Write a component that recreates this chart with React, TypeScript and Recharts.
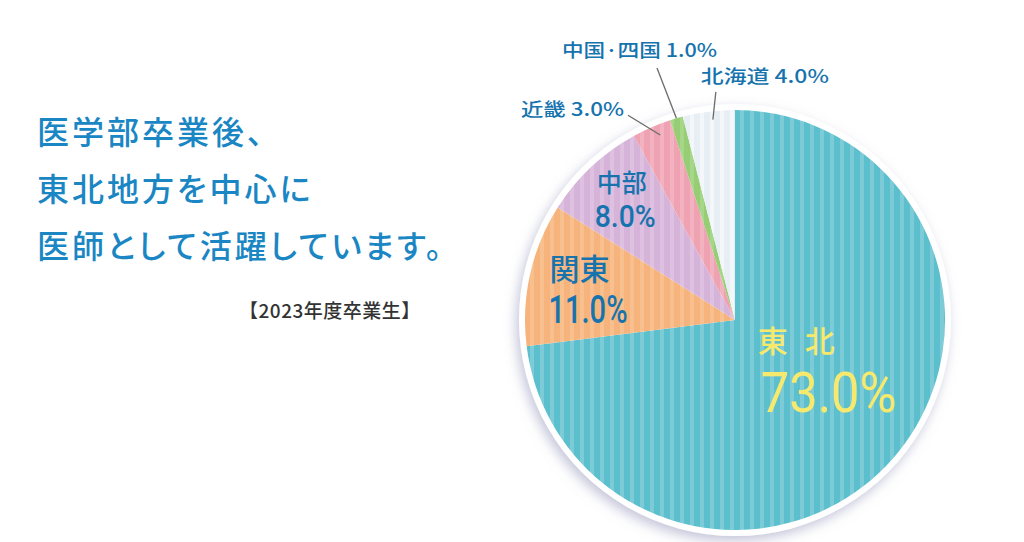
import React from 'react';
import { PieChart, Pie, Cell } from 'recharts';

// 2023年度卒業生の勤務地域
const regions = ['東北', '関東', '中部', '近畿', '中国·四国', '北海道'];
const shares = [73, 11, 8, 3, 1, 4];
const headingLines = ['医学部卒業後、', '東北地方を中心に', '医師として活躍しています。'];
const yearNote = '【2023年度卒業生】';

const chartData = regions.map((name, i) => ({ name, value: shares[i] }));

// stripe colours: base + lighter stripe
const fills = [
  ['#5bbfcd', '#7ccbd7'],
  ['#f6b47c', '#f8c08f'],
  ['#d6b3d8', '#dec1e0'],
  ['#efa2b2', '#f3b2c0'],
  ['#97cd74', '#a6d687'],
  ['#e7eff5', '#f3f7fa'],
];

const BLUE = '#1673ad';
const RAD = Math.PI / 180;

const polar = (cx: number, cy: number, r: number, a: number) => ({
  x: cx + r * Math.cos(-a * RAD),
  y: cy + r * Math.sin(-a * RAD),
});

// label placement per slice
const labelLayout: any[] = [
  { kind: 'inside', r: 0.5, color: '#f6e96e', name: { dx: -56, dy: -37, size: 30, ls: 17, weight: 500 }, val: { dx: -53, dy: 23, size: 56, w: 136, weight: 400 } },
  { kind: 'inside', r: 0.7, color: BLUE, name: { dx: -42, dy: -8, size: 30, ls: 0, weight: 500 }, val: { dx: -43, dy: 35, size: 39, w: 79, weight: 500 } },
  { kind: 'inside', r: 0.6, color: BLUE, name: { dx: -52, dy: -36, size: 25, ls: 0, weight: 500 }, val: { dx: -54, dy: -1, size: 31, w: 61, weight: 500 } },
  { kind: 'outside', r1: 0.95, a1: -1.4, r2: 1.1, a2: 4.2, tdx: -4, tdy: 1, anchor: 'end', w: 103 },
  { kind: 'outside', r1: 1.0, a1: 0, r2: 1.256, a2: 1.0, tdx: -95, tdy: -11, anchor: 'start', w: 155 },
  { kind: 'outside', r1: 0.96, a1: -0.9, r2: 1.09, a2: -2.4, tdx: -15, tdy: -9, anchor: 'start', w: 128 },
];

const renderLabel = (props: any) => {
  const { cx, cy, midAngle, outerRadius, index } = props;
  const L = labelLayout[index];
  const pct = `${shares[index].toFixed(1)}%`;
  if (L.kind === 'inside') {
    const p = polar(cx, cy, outerRadius * L.r, midAngle);
    return (
      <g key={`lbl-${index}`}>
        <text
          x={p.x + L.name.dx}
          y={p.y + L.name.dy}
          fill={L.color}
          fontSize={L.name.size}
          fontWeight={L.name.weight}
          fontFamily="'Noto Sans CJK JP', sans-serif"
          letterSpacing={L.name.ls}
        >
          {regions[index]}
        </text>
        <text
          x={p.x + L.val.dx}
          y={p.y + L.val.dy}
          fill={L.color}
          fontSize={L.val.size}
          fontWeight={L.val.weight}
          fontFamily="Roboto, sans-serif"
          textLength={L.val.w}
          lengthAdjust="spacingAndGlyphs"
        >
          {pct}
        </text>
      </g>
    );
  }
  const p1 = polar(cx, cy, outerRadius * L.r1, midAngle + L.a1);
  const p2 = polar(cx, cy, outerRadius * L.r2, midAngle + L.a2);
  return (
    <g key={`lbl-${index}`}>
      <line x1={p1.x} y1={p1.y} x2={p2.x} y2={p2.y} stroke="#6b6b6b" strokeWidth={1.3} />
      <text
        x={p2.x + L.tdx}
        y={p2.y + L.tdy}
        textAnchor={L.anchor}
        fill={BLUE}
        fontSize={18}
        fontWeight={500}
        fontFamily="'Noto Sans CJK JP', sans-serif"
        textLength={L.w}
        lengthAdjust="spacingAndGlyphs"
      >
        {regions[index]} {pct}
      </text>
    </g>
  );
};

export default function App() {
  return (
    <div style={{ position: 'absolute', left: 0, top: 0, width: 1024, height: 542, background: '#fff', overflow: 'hidden' }}>
      <div
        style={{
          position: 'absolute',
          left: 37,
          top: 102,
          color: '#1a86c3',
          fontFamily: "'Noto Sans CJK JP', sans-serif",
          fontSize: 32,
          fontWeight: 500,
          lineHeight: '57px',
          letterSpacing: 3,
          fontFeatureSettings: "'palt'",
          whiteSpace: 'nowrap',
        }}
      >
        {headingLines.map((l) => (
          <div key={l}>{l}</div>
        ))}
      </div>
      <div
        style={{
          position: 'absolute',
          left: 239,
          top: 297,
          color: '#333',
          fontFamily: "'Noto Sans CJK JP', sans-serif",
          fontSize: 19,
          fontWeight: 500,
          lineHeight: '26px',
          letterSpacing: 0.5,
          whiteSpace: 'nowrap',
        }}
      >
        {yearNote}
      </div>
      <div style={{ position: 'absolute', left: 0, top: 0 }}>
        <PieChart width={1024} height={542} margin={{ top: 0, right: 0, bottom: 0, left: 0 }}>
          <defs>
            {fills.map(([base, light], i) => (
              <pattern key={i} id={`stripe-${i}`} patternUnits="userSpaceOnUse" width={10} height={10}>
                <rect x={0} y={0} width={10} height={10} fill={base} />
                <rect x={0} y={0} width={4} height={10} fill={light} />
              </pattern>
            ))}
            <filter id="pieShadow" x="-20%" y="-20%" width="140%" height="140%">
              <feDropShadow dx={-3} dy={5} stdDeviation={6} floodColor="#8a8fb5" floodOpacity={0.5} />
            </filter>
          </defs>
          <Pie
            data={[{ name: 'bg', value: 1 }]}
            dataKey="value"
            cx={735}
            cy={320}
            outerRadius={216}
            startAngle={90}
            endAngle={-270}
            fill="#fff"
            stroke="none"
            filter="url(#pieShadow)"
            isAnimationActive={false}
          />
          <Pie
            data={chartData}
            dataKey="value"
            nameKey="name"
            cx={735}
            cy={320}
            outerRadius={210}
            startAngle={90}
            endAngle={-270}
            stroke="none"
            label={renderLabel}
            labelLine={false}
            isAnimationActive={false}
          >
            {chartData.map((d, i) => (
              <Cell key={d.name} fill={`url(#stripe-${i})`} />
            ))}
          </Pie>
        </PieChart>
      </div>
    </div>
  );
}
